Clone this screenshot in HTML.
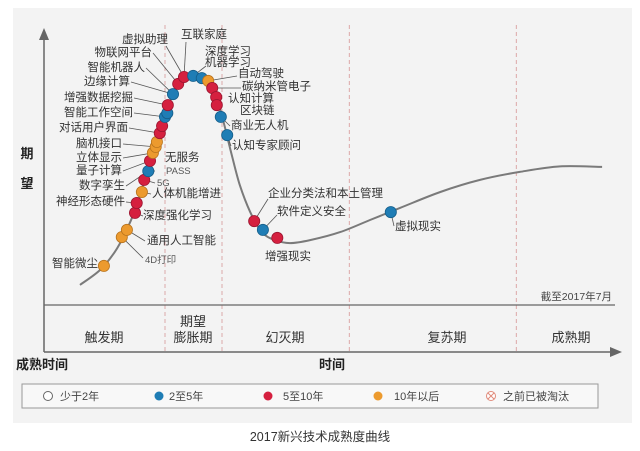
<!DOCTYPE html>
<html><head><meta charset="utf-8">
<style>
html,body{margin:0;padding:0;background:#fff;}
svg{display:block;font-family:"Liberation Sans","Noto Sans CJK SC",sans-serif;}
</style></head>
<body>
<svg id="chart" width="640" height="451" viewBox="0 0 640 451">
  <rect x="13" y="8" width="619" height="415" fill="#f3f3f3"/>
  <g id="grid"></g>
  <g id="axes">
    <line x1="44" y1="352" x2="44" y2="32" stroke="#666" stroke-width="1.5"/>
    <path d="M39,40 L44,28 L49,40 Z" fill="#666"/>
    <line x1="44" y1="352" x2="614" y2="352" stroke="#666" stroke-width="1.5"/>
    <path d="M610,347 L622,352 L610,357 Z" fill="#666"/>
    <line x1="44" y1="305" x2="615" y2="305" stroke="#666" stroke-width="1.2"/>
  </g>
  <g font-size="13" font-weight="bold" fill="#222">
    <text x="27" y="158" text-anchor="middle">期</text>
    <text x="27" y="188" text-anchor="middle">望</text>
  </g>
  <text x="612" y="300" font-size="10.5" fill="#444" text-anchor="end">截至2017年7月</text>
  <g font-size="13" fill="#333" text-anchor="middle">
    <text x="104" y="342">触发期</text>
    <text x="193" y="326">期望</text>
    <text x="193" y="342">膨胀期</text>
    <text x="285" y="342">幻灭期</text>
    <text x="447" y="342">复苏期</text>
    <text x="571" y="342">成熟期</text>
  </g>
  <text x="16" y="369" font-size="13" font-weight="bold" fill="#222">成熟时间</text>
  <text x="332" y="369" font-size="13" font-weight="bold" fill="#222" text-anchor="middle">时间</text>
  <path id="curve" fill="none" stroke="#7a7a7a" stroke-width="2"/>
  <g id="leaders" stroke="#555" stroke-width="0.8"></g>
  <g id="dots"></g>
  <g id="labels" font-size="11.5" fill="#333"></g>
  <g>
    <rect x="22" y="384" width="576" height="24" fill="#f8f8f8" stroke="#999" stroke-width="1"/>
    <g font-size="11" fill="#444">
      <g><circle cx="48" cy="396" r="4.5" fill="#fff" stroke="#666"/><text x="60" y="400">少于2年</text></g>
      <g><circle cx="159" cy="396" r="4.5" fill="#1f7db5"/><text x="169" y="400">2至5年</text></g>
      <g><circle cx="268" cy="396" r="4.5" fill="#d5203f"/><text x="283" y="400">5至10年</text></g>
      <g><circle cx="378" cy="396" r="4.5" fill="#ec9a2e"/><text x="394" y="400">10年以后</text></g>
      <g><circle cx="491" cy="396" r="4.5" fill="#fff" stroke="#e08a7a"/><path d="M488,393 L494,399 M494,393 L488,399" stroke="#e08a7a" stroke-width="1"/><text x="503" y="400">之前已被淘汰</text></g>
    </g>
  </g>
  <text x="320" y="441" font-size="12.5" fill="#333" text-anchor="middle">2017新兴技术成熟度曲线</text>
</svg>
<script>
// Curve (time 0-100, expectation 0-100)
const curveT = [6.25,9.7,12.3,14.1,15.8,17.2,18.4,19.8,21.2,22.6,24.3,26.0,27.8,29.2,30.2,31.3,32.6,34.0,35.8,37.8,40.1,42.7,46.2,51.4,56.6,61.8,68.8,75.7,82.6,89.6,96.9];
const curveV = [7.3,12.7,19.3,26.2,34.5,43.6,52,60.7,70.2,77.5,82.5,84,82.9,79.6,73.8,65.5,54.5,43.6,33.8,26.5,23.6,22.5,23.6,26.5,30.9,35.3,41.1,45.5,48.4,50.4,50.2];
// Technology dots
const dotT = [10.4,13.5,14.4,15.8,16.1,17.0,17.4,18.1,18.4,18.9,19.4,19.6,20.1,20.5,21.0,21.4,21.5,22.4,23.3,24.3,25.9,27.4,28.5,29.2,29.9,30.0,30.7,31.8,36.5,38.0,40.5,60.2];
const dotV = [14.2,24.7,27.3,33.5,37.1,41.1,45.5,48.7,52.4,55.3,57.5,59.3,62.5,65.1,68.4,69.8,72.7,76.7,80.4,82.9,83.3,82.5,81.5,78.9,75.6,72.7,68.4,61.8,30.5,27.3,24.4,33.8];
// 0:<2y 1:2-5y 2:5-10y 3:>10y
const dotCat = [3,3,3,2,2,3,2,1,2,3,3,3,2,2,1,1,2,1,2,2,1,1,3,2,2,2,1,1,2,1,2,1];
const phaseT = [21.0,30.9,53.0,82.0];
const catFill = ['#ffffff','#1f7db5','#d5203f','#ec9a2e'];
const catStroke = ['#666','#155e8a','#9c1530','#b8731d'];
const labelText = ['智能微尘','4D打印','通用人工智能','深度强化学习','神经形态硬件','人体机能增进','5G','PASS','无服务','数字孪生','量子计算','立体显示','脑机接口','对话用户界面','智能工作空间','增强数据挖掘','边缘计算','智能机器人','物联网平台','虚拟助理','互联家庭','深度学习','机器学习','自动驾驶','碳纳米管电子','认知计算','区块链','商业无人机','认知专家顾问','企业分类法和本土管理','软件定义安全','增强现实','虚拟现实'];
const labelDot = [0,1,2,3,4,5,6,7,-1,7,8,9,10,12,14,16,17,17,18,19,19,-1,20,22,23,24,-1,26,27,28,29,30,31];

function xS(t){return 44 + t*5.76;}
function yS(v){return 305 - v*2.75;}

const pos = [
 [98,267,'end',99,265],[145,263,'start',143,258],[147,244,'start',145,241],[143,219,'start',143,216],
 [125,205,'end',126,202],[152,197,'start',151,194],[157,186,'start',155,183],[166,174,'start',155,171],
 [165,161,'start',0,0],[125,189,'end',126,186],[122,174,'end',123,171],[122,161,'end',123,158],
 [122,147,'end',123,144],[128,131,'end',129,128],[133,116,'end',134,113],[133,101,'end',134,98],
 [130,85,'end',131,82],[145,71,'end',146,68],[152,56,'end',153,53],[168,43,'end',166,46],
 [181,38,'start',186,42],[205,55,'start',0,0],[205,66,'start',206,66],[238,77,'start',237,76],
 [242,90,'start',241,88],[228,102,'start',0,0],[240,114,'start',0,0],[231,129,'start',230,126],
 [232,149,'start',231,146],[268,197,'start',268,199],[277,215,'start',277,215],[265,260,'start',0,0],[395,230,'start',394,226]
];

const svgNS='http://www.w3.org/2000/svg';
const grid=document.getElementById('grid');
phaseT.forEach(t=>{
  const l=document.createElementNS(svgNS,'line');
  l.setAttribute('x1',xS(t).toFixed(1));l.setAttribute('x2',xS(t).toFixed(1));
  l.setAttribute('y1',25);l.setAttribute('y2',352);
  l.setAttribute('stroke','#d9a0a0');l.setAttribute('stroke-dasharray','4,3');l.setAttribute('stroke-width','0.9');
  
  
  grid.appendChild(l);
});
const P=curveT.map((t,i)=>[xS(t),yS(curveV[i])]);
let d='M'+P[0][0].toFixed(1)+','+P[0][1].toFixed(1);
for(let i=0;i<P.length-1;i++){
  const p0=P[i-1]||P[i],p1=P[i],p2=P[i+1],p3=P[i+2]||P[i+1];
  const c1=[p1[0]+(p2[0]-p0[0])/6,p1[1]+(p2[1]-p0[1])/6];
  const c2=[p2[0]-(p3[0]-p1[0])/6,p2[1]-(p3[1]-p1[1])/6];
  d+=' C'+c1[0].toFixed(1)+','+c1[1].toFixed(1)+' '+c2[0].toFixed(1)+','+c2[1].toFixed(1)+' '+p2[0].toFixed(1)+','+p2[1].toFixed(1);
}
document.getElementById('curve').setAttribute('d',d);
const lg=document.getElementById('labels'),ld=document.getElementById('leaders');
labelText.forEach((txt,i)=>{
  const p=pos[i];
  const t=document.createElementNS(svgNS,'text');
  t.setAttribute('x',p[0]);t.setAttribute('y',p[1]);t.setAttribute('text-anchor',p[2]);
  if(txt==='PASS'||txt==='5G'||txt==='4D打印'){t.setAttribute('font-size','9.5');t.setAttribute('fill','#555');}
  t.textContent=txt;
  
  
  lg.appendChild(t);
  const di=labelDot[i];
  if(di>=0&&p[3]>0){
    const l=document.createElementNS(svgNS,'line');
    l.setAttribute('x1',p[3]);l.setAttribute('y1',p[4]);
    l.setAttribute('x2',xS(dotT[di]).toFixed(1));l.setAttribute('y2',yS(dotV[di]).toFixed(1));
    
    
    ld.appendChild(l);
  }
});
const dg=document.getElementById('dots');
dotT.forEach((t,i)=>{
  const c=document.createElementNS(svgNS,'circle');
  c.setAttribute('cx',xS(t).toFixed(1));c.setAttribute('cy',yS(dotV[i]).toFixed(1));
  c.setAttribute('r',5.6);c.setAttribute('fill',catFill[dotCat[i]]);
  c.setAttribute('stroke',catStroke[dotCat[i]]);c.setAttribute('stroke-width','0.8');
  
  
  dg.appendChild(c);
});
</script>
</body></html>
